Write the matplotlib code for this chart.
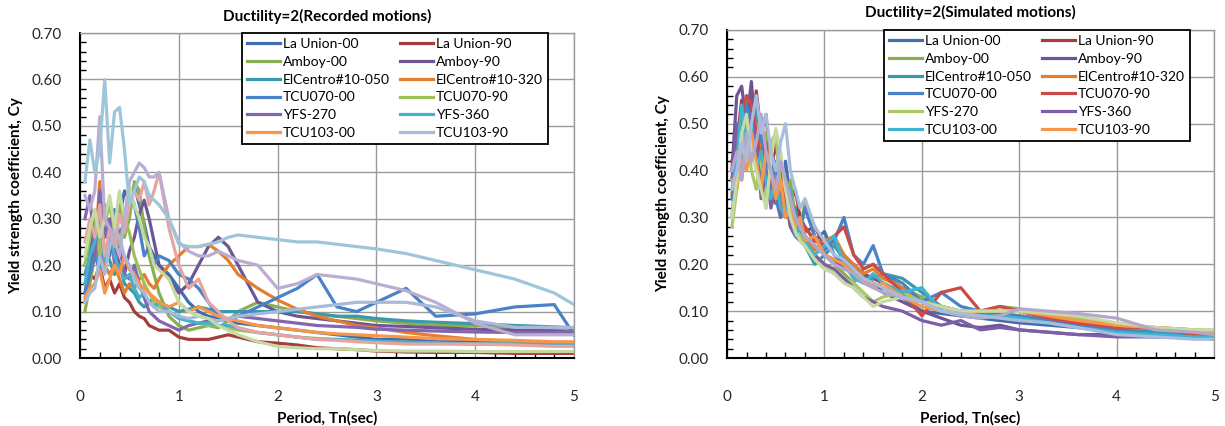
import matplotlib
matplotlib.use("Agg")
import matplotlib.pyplot as plt
from matplotlib.ticker import MultipleLocator

plt.rcParams['font.family'] = ['Lato', 'DejaVu Sans']

# period grid (sec), shared by all series
T = [0.05, 0.10, 0.15, 0.20, 0.25, 0.30, 0.35, 0.40, 0.45, 0.50, 0.55, 0.60, 0.65, 0.70, 0.75,
     0.80, 0.90, 1.0, 1.1, 1.2, 1.3, 1.4, 1.5, 1.6, 1.8, 2.0, 2.2, 2.4, 2.6, 2.8, 3.0, 3.3,
     3.6, 4.0, 4.4, 4.8, 5.0]

labels = ['La Union-00', 'La Union-90', 'Amboy-00', 'Amboy-90', 'ElCentro#10-050',
          'ElCentro#10-320', 'TCU070-00', 'TCU070-90', 'YFS-270', 'YFS-360',
          'TCU103-00', 'TCU103-90']

# ---- recorded motions ----
rec = [
    [0.20,0.24,0.30,0.26,0.33,0.22,0.28,0.30,0.36,0.34,0.37,0.33,0.29,0.24,0.22,0.20,0.18,0.15,0.12,0.10,0.09,0.085,0.08,0.075,0.07,0.065,0.06,0.055,0.05,0.045,0.04,0.04,0.035,0.035,0.03,0.03,0.03],
    [0.16,0.18,0.17,0.20,0.15,0.17,0.14,0.16,0.13,0.12,0.10,0.09,0.085,0.07,0.065,0.06,0.06,0.045,0.04,0.04,0.04,0.045,0.05,0.045,0.035,0.032,0.028,0.022,0.02,0.018,0.015,0.013,0.012,0.012,0.01,0.01,0.01],
    [0.10,0.16,0.22,0.26,0.30,0.24,0.28,0.33,0.26,0.30,0.38,0.36,0.28,0.22,0.18,0.14,0.09,0.07,0.06,0.065,0.07,0.065,0.08,0.10,0.12,0.11,0.10,0.095,0.09,0.085,0.08,0.075,0.07,0.07,0.065,0.06,0.058],
    [0.14,0.20,0.26,0.32,0.22,0.27,0.24,0.20,0.18,0.23,0.26,0.31,0.34,0.30,0.25,0.20,0.17,0.14,0.16,0.20,0.24,0.26,0.24,0.20,0.12,0.10,0.09,0.085,0.08,0.075,0.07,0.068,0.065,0.062,0.06,0.058,0.055],
    [0.18,0.22,0.26,0.20,0.24,0.21,0.18,0.20,0.16,0.15,0.14,0.12,0.11,0.12,0.13,0.12,0.11,0.10,0.105,0.11,0.105,0.10,0.10,0.10,0.10,0.10,0.10,0.095,0.09,0.09,0.085,0.08,0.077,0.074,0.07,0.067,0.065],
    [0.12,0.18,0.22,0.38,0.20,0.18,0.20,0.17,0.14,0.16,0.15,0.17,0.18,0.16,0.15,0.17,0.20,0.22,0.24,0.24,0.245,0.23,0.21,0.18,0.15,0.125,0.105,0.09,0.08,0.07,0.065,0.055,0.048,0.04,0.035,0.03,0.028],
    [0.14,0.18,0.22,0.19,0.28,0.24,0.32,0.26,0.30,0.36,0.33,0.28,0.22,0.24,0.20,0.22,0.21,0.18,0.17,0.15,0.12,0.09,0.08,0.09,0.11,0.13,0.15,0.18,0.11,0.10,0.12,0.15,0.09,0.095,0.11,0.115,0.05],
    [0.20,0.26,0.30,0.22,0.29,0.33,0.27,0.24,0.30,0.27,0.22,0.19,0.16,0.14,0.12,0.11,0.10,0.09,0.08,0.075,0.07,0.07,0.065,0.06,0.055,0.05,0.045,0.042,0.04,0.038,0.036,0.034,0.032,0.03,0.03,0.028,0.028],
    [0.30,0.35,0.22,0.36,0.26,0.30,0.20,0.24,0.18,0.17,0.20,0.16,0.13,0.10,0.09,0.08,0.07,0.06,0.07,0.075,0.08,0.08,0.085,0.09,0.085,0.08,0.075,0.07,0.068,0.066,0.062,0.06,0.058,0.056,0.055,0.055,0.055],
    [0.16,0.22,0.25,0.30,0.21,0.27,0.22,0.19,0.17,0.18,0.15,0.13,0.14,0.12,0.11,0.12,0.10,0.085,0.08,0.075,0.075,0.07,0.07,0.065,0.055,0.05,0.045,0.04,0.04,0.038,0.036,0.034,0.032,0.03,0.03,0.03,0.03],
    [0.13,0.15,0.16,0.19,0.14,0.17,0.20,0.18,0.22,0.19,0.18,0.16,0.15,0.14,0.13,0.12,0.11,0.12,0.10,0.11,0.10,0.09,0.085,0.08,0.07,0.065,0.06,0.055,0.052,0.05,0.048,0.045,0.042,0.04,0.038,0.035,0.035],
    [0.12,0.14,0.15,0.22,0.18,0.24,0.28,0.26,0.22,0.20,0.17,0.15,0.14,0.12,0.11,0.10,0.10,0.09,0.085,0.09,0.085,0.08,0.085,0.09,0.095,0.10,0.105,0.11,0.115,0.12,0.12,0.12,0.11,0.08,0.066,0.066,0.066],
]
# series drawn in the plot but cut from the legend
rec_extra = [
    [0.25,0.30,0.26,0.33,0.22,0.28,0.24,0.31,0.27,0.33,0.36,0.34,0.38,0.33,0.36,0.40,0.28,0.20,0.15,0.17,0.12,0.10,0.08,0.065,0.055,0.05,0.045,0.04,0.038,0.035,0.033,0.03,0.03,0.03,0.028,0.025,0.025],
    [0.22,0.28,0.32,0.26,0.30,0.35,0.28,0.36,0.30,0.37,0.33,0.30,0.26,0.24,0.20,0.19,0.17,0.12,0.10,0.09,0.085,0.07,0.06,0.05,0.035,0.025,0.022,0.02,0.02,0.018,0.016,0.015,0.015,0.014,0.014,0.014,0.014],
    [0.35,0.32,0.36,0.52,0.30,0.28,0.25,0.22,0.30,0.38,0.40,0.42,0.41,0.39,0.39,0.40,0.30,0.25,0.23,0.22,0.22,0.23,0.22,0.21,0.20,0.15,0.16,0.18,0.175,0.17,0.16,0.145,0.12,0.075,0.05,0.05,0.05],
    [0.38,0.47,0.40,0.45,0.60,0.42,0.53,0.54,0.45,0.33,0.36,0.39,0.38,0.35,0.34,0.33,0.30,0.245,0.24,0.24,0.245,0.25,0.26,0.265,0.26,0.255,0.25,0.25,0.245,0.24,0.235,0.225,0.21,0.19,0.17,0.14,0.115],
]
rec_colors = ['#3F6FAE', '#A63D3A', '#8BAF4F', '#6E5594', '#3A99AE', '#E27E2F',
              '#4A82C8', '#9CC15A', '#8466B0', '#46B1CC', '#F7964A', '#A9B9DA']
rec_extra_colors = ['#E4A5A3', '#C5D9A0', '#BBADD2', '#9DC6DA']

# ---- simulated motions ----
sim = [
    [0.38,0.45,0.52,0.48,0.56,0.42,0.50,0.38,0.45,0.40,0.36,0.42,0.34,0.32,0.30,0.28,0.25,0.27,0.22,0.20,0.18,0.17,0.16,0.15,0.13,0.10,0.095,0.09,0.085,0.08,0.075,0.07,0.065,0.055,0.05,0.045,0.045],
    [0.42,0.46,0.55,0.50,0.44,0.57,0.48,0.52,0.40,0.46,0.38,0.35,0.33,0.36,0.30,0.27,0.28,0.24,0.25,0.22,0.19,0.18,0.17,0.16,0.14,0.12,0.10,0.09,0.09,0.085,0.08,0.075,0.07,0.06,0.05,0.045,0.04],
    [0.36,0.40,0.50,0.55,0.46,0.52,0.42,0.48,0.36,0.40,0.34,0.32,0.38,0.30,0.28,0.33,0.26,0.22,0.20,0.18,0.16,0.19,0.20,0.18,0.15,0.13,0.11,0.10,0.10,0.11,0.105,0.09,0.075,0.065,0.06,0.055,0.055],
    [0.40,0.56,0.58,0.50,0.59,0.46,0.38,0.44,0.35,0.33,0.38,0.31,0.30,0.28,0.30,0.26,0.24,0.22,0.21,0.19,0.20,0.18,0.16,0.14,0.12,0.10,0.085,0.07,0.065,0.07,0.06,0.055,0.05,0.05,0.045,0.045,0.045],
    [0.30,0.42,0.38,0.52,0.45,0.55,0.40,0.36,0.42,0.34,0.30,0.36,0.28,0.32,0.26,0.24,0.20,0.22,0.24,0.21,0.18,0.16,0.17,0.18,0.17,0.14,0.11,0.10,0.095,0.09,0.085,0.08,0.07,0.06,0.055,0.05,0.05],
    [0.35,0.44,0.40,0.48,0.42,0.50,0.46,0.38,0.34,0.40,0.36,0.30,0.34,0.28,0.30,0.26,0.23,0.25,0.26,0.22,0.20,0.18,0.19,0.17,0.15,0.12,0.11,0.10,0.10,0.095,0.09,0.085,0.08,0.07,0.065,0.06,0.055],
    [0.34,0.40,0.46,0.54,0.50,0.44,0.48,0.40,0.36,0.42,0.32,0.38,0.30,0.28,0.27,0.32,0.26,0.23,0.25,0.30,0.22,0.20,0.24,0.18,0.16,0.12,0.14,0.11,0.10,0.095,0.09,0.08,0.07,0.06,0.05,0.045,0.04],
    [0.40,0.46,0.52,0.56,0.54,0.48,0.42,0.46,0.38,0.35,0.40,0.33,0.31,0.29,0.27,0.28,0.25,0.24,0.26,0.28,0.22,0.19,0.20,0.18,0.14,0.09,0.14,0.15,0.10,0.11,0.10,0.085,0.075,0.065,0.065,0.05,0.045],
    [0.28,0.36,0.44,0.50,0.40,0.36,0.44,0.32,0.46,0.48,0.36,0.38,0.30,0.28,0.26,0.24,0.22,0.20,0.18,0.17,0.16,0.14,0.12,0.13,0.14,0.12,0.10,0.10,0.10,0.10,0.10,0.095,0.085,0.07,0.065,0.06,0.06],
    [0.38,0.50,0.44,0.40,0.52,0.46,0.34,0.40,0.32,0.36,0.30,0.34,0.28,0.26,0.25,0.24,0.22,0.20,0.19,0.17,0.15,0.13,0.12,0.11,0.10,0.08,0.07,0.08,0.06,0.065,0.06,0.055,0.05,0.045,0.045,0.045,0.045],
    [0.36,0.42,0.54,0.46,0.50,0.40,0.44,0.38,0.34,0.38,0.32,0.30,0.36,0.26,0.28,0.25,0.22,0.24,0.26,0.20,0.17,0.16,0.18,0.16,0.14,0.15,0.10,0.095,0.09,0.09,0.085,0.075,0.065,0.055,0.05,0.045,0.045],
    [0.38,0.36,0.46,0.40,0.48,0.42,0.36,0.44,0.40,0.34,0.38,0.30,0.32,0.28,0.30,0.25,0.26,0.22,0.21,0.20,0.18,0.17,0.15,0.16,0.13,0.11,0.10,0.095,0.10,0.10,0.10,0.09,0.08,0.07,0.065,0.06,0.055],
]
sim_extra = [
    [0.30,0.38,0.48,0.52,0.44,0.40,0.36,0.32,0.42,0.49,0.44,0.36,0.30,0.27,0.25,0.24,0.21,0.19,0.18,0.16,0.15,0.13,0.11,0.12,0.13,0.12,0.11,0.10,0.10,0.10,0.10,0.095,0.09,0.075,0.065,0.06,0.06],
    [0.40,0.44,0.38,0.48,0.42,0.46,0.52,0.44,0.40,0.36,0.42,0.38,0.34,0.30,0.28,0.26,0.24,0.22,0.20,0.19,0.18,0.16,0.15,0.14,0.13,0.12,0.10,0.09,0.085,0.09,0.105,0.10,0.095,0.085,0.06,0.055,0.05],
    [0.36,0.40,0.46,0.42,0.50,0.56,0.48,0.52,0.44,0.40,0.46,0.50,0.40,0.36,0.32,0.34,0.28,0.25,0.22,0.21,0.19,0.17,0.16,0.15,0.13,0.12,0.10,0.095,0.09,0.085,0.08,0.075,0.065,0.05,0.045,0.04,0.04],
]
sim_colors = ['#3F6FAE', '#A63D3A', '#8BAF4F', '#6E5594', '#3A99AE', '#E27E2F',
              '#4A82C8', '#CC4B48', '#A9C967', '#7D5FA8', '#3FB3D0', '#F7964A']
sim_extra_colors = ['#C7DAA3', '#B5A6CC', '#A8BCDD']


def draw(ax, series, colors, extra, extra_colors, title, legend_x):
    handles = []
    for s, c, lab in zip(series, colors, labels):
        h, = ax.plot(T, s, color=c, lw=2.3, label=lab)
        handles.append(h)
    for s, c in zip(extra, extra_colors):
        ax.plot(T, s, color=c, lw=2.3, label='_nolegend_')

    ax.set_xlim(0, 5)
    ax.set_ylim(0, 0.7)
    ax.xaxis.set_major_locator(MultipleLocator(1))
    ax.xaxis.set_minor_locator(MultipleLocator(0.2))
    ax.yaxis.set_major_locator(MultipleLocator(0.1))
    ax.yaxis.set_minor_locator(MultipleLocator(0.02))
    ax.set_yticklabels([f'{v:.2f}' for v in ax.get_yticks()])
    ax.grid(True, which='major', color='#9a9a9a', lw=1.0)
    ax.set_axisbelow(True)
    for sp in ['top', 'right']:
        ax.spines[sp].set_color('#9a9a9a')
        ax.spines[sp].set_linewidth(1.0)
    for sp in ['left', 'bottom']:
        ax.spines[sp].set_color('black')
        ax.spines[sp].set_linewidth(1.5)
    ax.tick_params(which='both', direction='in', colors='black', labelcolor='#262626',
                   labelsize=11)
    ax.tick_params(which='major', length=0)
    ax.tick_params(which='minor', length=4, width=1)
    ax.tick_params(axis='x', which='major', pad=23)
    ax.tick_params(axis='y', which='major', pad=13)

    ax.set_title(title, fontsize=11, fontweight='bold', pad=9)
    ax.set_xlabel('Period, Tn(sec)', fontsize=11, fontweight='bold', labelpad=5)
    ax.set_ylabel('Yield strength coefficient, Cy', fontsize=11, fontweight='bold', labelpad=6)

    # legend filled row by row: reorder handles for matplotlib's column-first layout
    order = list(range(0, 12, 2)) + list(range(1, 12, 2))
    leg = ax.legend([handles[i] for i in order], [labels[i] for i in order],
                    loc='upper left', bbox_to_anchor=(legend_x, 1.0), ncol=2, fontsize=10,
                    frameon=True, fancybox=False, edgecolor='black', framealpha=1,
                    handlelength=2.4, handletextpad=0.2, labelspacing=0.42,
                    columnspacing=0.7, borderpad=0.35, borderaxespad=0)
    leg.get_frame().set_linewidth(1.3)
    for h in leg.get_lines():
        h.set_linewidth(2.3)


fig = plt.figure(figsize=(12.25, 4.26), dpi=100)
ax1 = fig.add_axes([0.0653, 0.1596, 0.4033, 0.7629])
ax2 = fig.add_axes([0.5935, 0.1596, 0.3976, 0.77])

draw(ax1, rec, rec_colors, rec_extra, rec_extra_colors, 'Ductility=2(Recorded motions)', 0.328)
draw(ax2, sim, sim_colors, sim_extra, sim_extra_colors, 'Ductility=2(Simulated motions)', 0.322)

fig.savefig('out.png', dpi=100)
